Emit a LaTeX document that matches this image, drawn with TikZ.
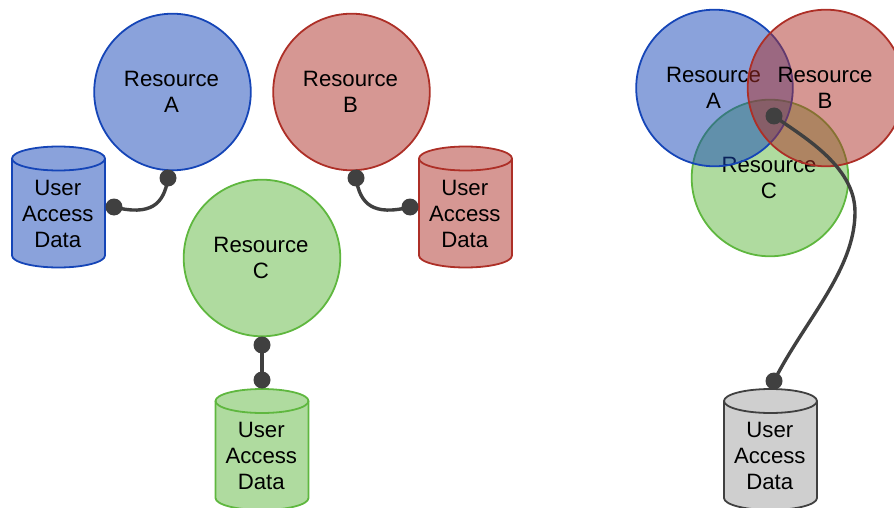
\documentclass[tikz,border=0pt]{standalone}
\usepackage{fontspec}
\setmainfont{Liberation Sans}
\definecolor{cblue}{HTML}{1545B7}
\definecolor{cred}{HTML}{AD2F27}
\definecolor{cgreen}{HTML}{5FB73F}
\definecolor{cgrey}{HTML}{404040}
\definecolor{cgreyfill}{HTML}{CFCFCF}
\tikzset{
  labeltext/.style={align=center,font=\fontsize{22.2}{26}\selectfont,text=black},
  resource/.style={circle,draw=#1,fill=#1,fill opacity=.5,draw opacity=1,text opacity=1,
    line width=1.8pt,minimum size=156.6pt,inner sep=0pt,labeltext},
  dbtext/.style={labeltext,inner sep=0pt},
  dbbody/.style={line width=1.8pt,draw=#1,fill=#1,fill opacity=.5,draw opacity=1},
  dbbodygrey/.style={line width=1.8pt,draw=cgrey,fill=cgreyfill},
  dbtop/.style={line width=1.8pt,draw=#1},
  dot/.style={circle,fill=cgrey,minimum size=17pt,inner sep=0pt},
  link/.style={draw=cgrey,line width=3.4pt,line cap=round},
}
\newcommand{\restext}[1]{\begin{tabular}{@{}c@{\hspace{2pt}}}\rule{0pt}{23.2pt}Resource\\#1\end{tabular}}
% #1 centre x, #2 top ellipse centre y, #3 name, #4 body style, #5 stroke colour
\newcommand{\dbcyl}[5]{%
  \path[#4] (#1-46.5,#2) -- (#1-46.5,#2+97)
    .. controls (#1-46.5,#2+103.6) and (#1-25.7,#2+109) .. (#1,#2+109)
    .. controls (#1+25.7,#2+109) and (#1+46.5,#2+103.6) .. (#1+46.5,#2+97)
    -- (#1+46.5,#2)
    .. controls (#1+46.5,#2-6.6) and (#1+25.7,#2-12) .. (#1,#2-12)
    .. controls (#1-25.7,#2-12) and (#1-46.5,#2-6.6) .. (#1-46.5,#2)
    -- cycle;
  \draw[dbtop=#5] (#1-46.5,#2)
    .. controls (#1-46.5,#2+6.6) and (#1-25.7,#2+12) .. (#1,#2+12)
    .. controls (#1+25.7,#2+12) and (#1+46.5,#2+6.6) .. (#1+46.5,#2);
  \node[dbtext] (#3) at (#1-0.7,#2+55) {User\\Access\\Data};
}
\begin{document}
\begin{tikzpicture}[x=1pt,y=-1pt]
\useasboundingbox (0,0) rectangle (894,508);
\clip (0,0) rectangle (894,508);
% left group
\node[resource=cblue] (ra) at (172.5,92) {\restext{A}};
\node[resource=cred] (rb) at (351.5,92) {\restext{B}};
\node[resource=cgreen] (rc) at (262,258) {\restext{C}};
\dbcyl{58.5}{158.5}{da}{dbbody=cblue}{cblue}
\dbcyl{465.5}{158.5}{db}{dbbody=cred}{cred}
\dbcyl{262}{401}{dc}{dbbody=cgreen}{cgreen}
\node[dot] (a1) at (168,178) {};
\node[dot] (a2) at (114,207) {};
\node[dot] (b1) at (356,178) {};
\node[dot] (b2) at (410,207) {};
\node[dot] (c1) at (262,345) {};
\node[dot] (c2) at (262,380) {};
\draw[link] (a1.center) .. controls (164,205) and (150,216) .. (a2.center);
\draw[link] (b1.center) .. controls (360,205) and (374,216) .. (b2.center);
\draw[link] (c1.center) -- (c2.center);
% right group
\node[resource=cgreen] (rrc) at (770,178) {\restext{C}};
\node[resource=cblue] (rra) at (714.5,88) {\restext{A}};
\node[resource=cred] (rrb) at (826,88) {\restext{B}};
\dbcyl{770.5}{401}{dd}{dbbodygrey}{cgrey}
\node[dot] (d1) at (774,116) {};
\node[dot] (d2) at (774,381) {};
\draw[link] (d1.center) .. controls (800,135) and (855,165) .. (855,212)
  .. controls (855,270) and (805,320) .. (d2.center);
\end{tikzpicture}
\end{document}
